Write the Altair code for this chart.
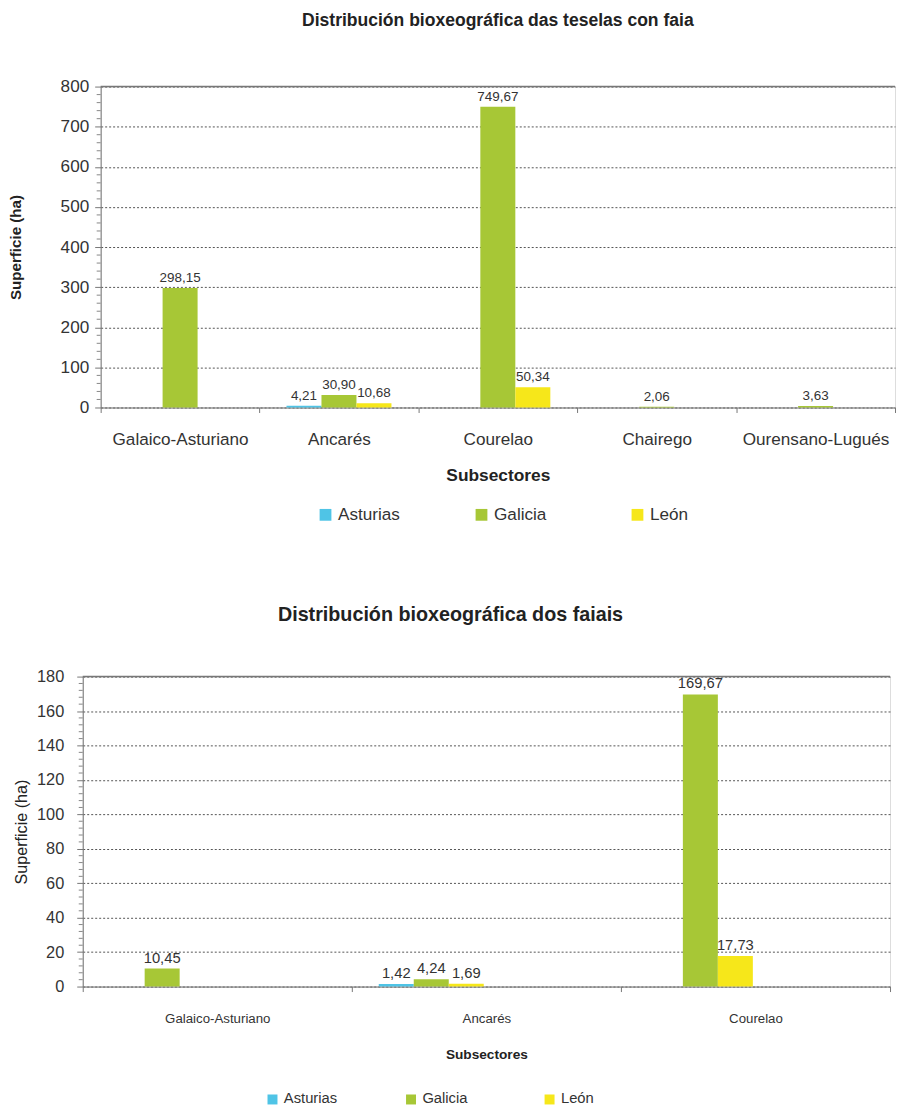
import altair as alt
import pandas as pd

SERIES = ["Asturias", "Galicia", "León"]
COLORS = ["#4fc4e6", "#a7c736", "#f6e71a"]

# Chart 1: Distribución bioxeográfica das teselas con faia
cats1 = ["Galaico-Asturiano", "Ancarés", "Courelao", "Chairego", "Ourensano-Lugués"]
asturias1 = [0, 4.21, 0, 0, 0]
galicia1 = [298.15, 30.90, 749.67, 2.06, 3.63]
leon1 = [0, 10.68, 50.34, 0, 0]
yticks1 = [0, 100, 200, 300, 400, 500, 600, 700, 800]
yminor1 = [v for v in range(0, 801, 20) if v % 100]

# Chart 2: Distribución bioxeográfica dos faiais
cats2 = ["Galaico-Asturiano", "Ancarés", "Courelao"]
asturias2 = [0, 1.42, 0]
galicia2 = [10.45, 4.24, 169.67]
leon2 = [0, 1.69, 17.73]
yticks2 = [0, 20, 40, 60, 80, 100, 120, 140, 160, 180]
yminor2 = [v for v in range(0, 181, 4) if v % 20]

FONT = "Liberation Sans"


def long_df(cats, ast, gal, leo):
    rows = []
    for i, c in enumerate(cats):
        for s, vals in zip(SERIES, [ast, gal, leo]):
            v = vals[i]
            if v > 0:
                rows.append({"cat": c, "serie": s, "val": v,
                             "lbl": f"{v:.2f}".replace(".", ",")})
    return pd.DataFrame(rows)


def panel(cats, ast, gal, leo, yticks, yminor, W, H, title, t):
    df = long_df(cats, ast, gal, leo)
    ymax = yticks[-1]
    x = alt.X("cat:N", sort=cats,
              scale=alt.Scale(domain=cats, paddingInner=0, paddingOuter=0),
              axis=alt.Axis(title="Subsectores", tickBand="extent", labelAngle=0,
                            labelFontSize=t["xlab"], labelFont=FONT, labelColor="#333",
                            titleFontSize=t["xtitle"], titleFont=FONT, titleFontWeight="bold",
                            titleColor="#222", labelPadding=t["xlabpad"], titlePadding=t["xtitlepad"],
                            tickSize=5, tickColor="#777", domainColor="#777", grid=False,
                            labelOverlap=False))
    xo = alt.XOffset("serie:N", scale=alt.Scale(domain=SERIES, paddingInner=0, paddingOuter=0.77))
    yscale = alt.Scale(domain=[0, ymax], nice=False)
    yaxis = alt.Axis(title="Superficie (ha)", values=yticks, grid=True,
                     gridDash=[2, 2], gridColor="#555", gridWidth=1,
                     labelFontSize=t["ylab"], labelFont=FONT, labelColor="#333",
                     titleFontSize=t["ytitle"], titleFont=FONT,
                     titleFontWeight=t["ytitleweight"], titleColor="#222",
                     labelPadding=t["ylabpad"], titlePadding=t["ytitlepad"],
                     tickSize=6, tickColor="#777", domainColor="#777",
                     labelOverlap=False)
    y = alt.Y("val:Q", scale=yscale, axis=yaxis)
    base = alt.Chart(df).encode(x=x, xOffset=xo, y=y)
    bars = base.mark_bar().encode(
        color=alt.Color("serie:N",
                        scale=alt.Scale(domain=SERIES, range=COLORS),
                        legend=alt.Legend(title=None, orient="none", direction="horizontal",
                                          legendX=t["legx"], legendY=t["legy"],
                                          symbolType="square", symbolSize=t["symsize"],
                                          symbolStrokeWidth=0, gridAlign="all",
                                          labelFontSize=t["leglab"], labelFont=FONT,
                                          labelColor="#333", columnPadding=t["legcol"],
                                          labelOffset=4))
    )
    text = base.mark_text(dy=-10, fontSize=t["vlab"], font=FONT, color="#333").encode(text="lbl:N")
    border = alt.Chart(pd.DataFrame({"v": [ymax]})).mark_rule(color="#777", strokeWidth=1.5).encode(
        y=alt.Y("v:Q", scale=yscale, axis=yaxis))
    minor = alt.Chart(pd.DataFrame({"v": yminor})).mark_rule(color="#888").encode(
        y=alt.Y("v:Q", scale=yscale, axis=yaxis), x=alt.value(-4), x2=alt.value(0))
    layered = alt.layer(bars, text, border, minor).properties(
        width=W, height=H,
        title=alt.TitleParams(title, fontSize=t["title"], font=FONT, fontWeight="bold",
                              color="#222", offset=t["titleoff"], dx=t["titledx"]))
    spacer = alt.Chart(pd.DataFrame({"s": [0]})).mark_text(opacity=0).encode(
        x=alt.value(0), y=alt.value(0), text=alt.value("")).properties(
        width=t["spacer"], height=1, view=alt.ViewBackground(stroke="transparent", strokeWidth=0))
    return alt.hconcat(spacer, layered, spacing=0).resolve_scale(color="independent")


top = panel(cats1, asturias1, galicia1, leon1, yticks1, yminor1, 797, 322,
            "Distribución bioxeográfica das teselas con faia",
            dict(xlab=17.2, xtitle=17.4, xlabpad=18, xtitlepad=19, ylab=17.2, ytitle=15.2,
                 ytitleweight="bold", ylabpad=6, ytitlepad=37, leglab=17.2, legx=217,
                 legy=421, legcol=72.5, symsize=140, vlab=13.5, title=17.6, titleoff=48,
                 titledx=0, spacer=1))
bottom = panel(cats2, asturias2, galicia2, leon2, yticks2, yminor2, 810, 311,
               "Distribución bioxeográfica dos faiais",
               dict(xlab=13.3, xtitle=13.7, xlabpad=20, xtitlepad=22.5, ylab=16.4, ytitle=16.2,
                    ytitleweight="normal", ylabpad=13, ytitlepad=7, leglab=14.8, legx=183,
                    legy=416.5, legcol=66, symsize=100, vlab=14.8, title=19.8, titleoff=44,
                    titledx=-36, spacer=7))

chart = alt.vconcat(top, bottom, spacing=80).resolve_scale(
    color="independent").properties(
    padding={"left": 6, "top": 9, "right": 0, "bottom": 0}
).configure_view(stroke="transparent", strokeWidth=0).configure(background="white")

chart.save("out.html", embed_options={"renderer": "svg", "actions": False})
